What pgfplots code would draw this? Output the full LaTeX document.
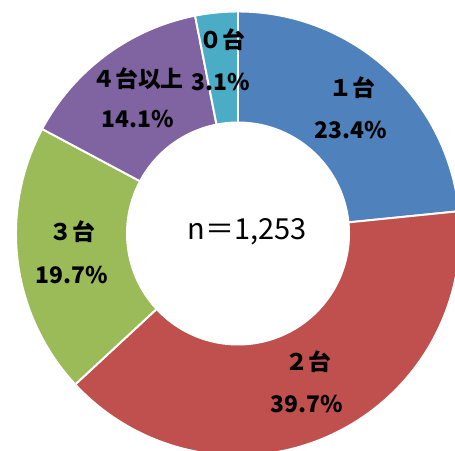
\documentclass[border=0pt]{standalone}
\usepackage{pgfplots}
\usepackage{pgfplotstable}
\pgfplotsset{compat=1.18}
\usepackage{fontspec}
\setmainfont{Noto Sans CJK JP}
\definecolor{cA}{HTML}{4F81BD}
\definecolor{cB}{HTML}{C0504D}
\definecolor{cC}{HTML}{9BBB59}
\definecolor{cD}{HTML}{8064A2}
\definecolor{cE}{HTML}{4BACC6}
\pgfplotstableread{
cat pct
1 23.4
2 39.7
3 19.7
4 14.1
0 3.1
}\data
\begin{document}
\begin{tikzpicture}
\pgfplotstablegetelem{0}{pct}\of\data \pgfmathsetmacro\pA{\pgfplotsretval}
\pgfplotstablegetelem{1}{pct}\of\data \pgfmathsetmacro\pB{\pgfplotsretval}
\pgfplotstablegetelem{2}{pct}\of\data \pgfmathsetmacro\pC{\pgfplotsretval}
\pgfplotstablegetelem{3}{pct}\of\data \pgfmathsetmacro\pD{\pgfplotsretval}
\pgfplotstablegetelem{4}{pct}\of\data \pgfmathsetmacro\pE{\pgfplotsretval}
\pgfmathsetmacro\aA{90}
\pgfmathsetmacro\aB{\aA-3.6*\pA}
\pgfmathsetmacro\aC{\aB-3.6*\pB}
\pgfmathsetmacro\aD{\aC-3.6*\pC}
\pgfmathsetmacro\aE{\aD-3.6*\pD}
\pgfmathsetmacro\aF{\aE-3.6*\pE}
\def\R{222}
\def\r{112}
\begin{axis}[
  hide axis, scale only axis, width=9.1cm, height=9cm,
  xmin=-238, xmax=217, ymin=-216.5, ymax=233.5, clip=true,
  every axis plot/.append style={draw=white, line width=1.1pt, samples=120, line join=round},
]
\addplot[fill=cA, domain=\aB:\aA] ({\R*cos(x)},{\R*sin(x)}) -- (0,0) -- cycle;
\addplot[fill=cB, domain=\aC:\aB] ({\R*cos(x)},{\R*sin(x)}) -- (0,0) -- cycle;
\addplot[fill=cC, domain=\aD:\aC] ({\R*cos(x)},{\R*sin(x)}) -- (0,0) -- cycle;
\addplot[fill=cD, domain=\aE:\aD] ({\R*cos(x)},{\R*sin(x)}) -- (0,0) -- cycle;
\addplot[fill=cE, domain=\aF:\aE] ({\R*cos(x)},{\R*sin(x)}) -- (0,0) -- cycle;
\addplot[fill=white, draw=none, domain=0:360, samples=180] ({\r*cos(x)},{\r*sin(x)}) -- cycle;
\begin{scope}[every node/.style={font=\bfseries\fontsize{13}{15}\selectfont, inner sep=0pt}]
\node at (114,145.5) {１台};
\node at (113,103.5) {23.4\%};
\node at (70,-128.5) {２台};
\node at (69,-170.5) {39.7\%};
\node at (-166,1.5) {３台};
\node at (-166,-41.5) {19.7\%};
\node at (-100,154.5) {４台以上};
\node at (-100,114.5) {14.1\%};
\node at (-16,193.5) {０台};
\node at (-17,151.5) {3.1\%};
\end{scope}
\node[font=\fontsize{16.5}{18}\selectfont, inner sep=0pt] at (9,1.5) {n＝1,253};
\end{axis}
\pgfresetboundingbox
\useasboundingbox (0,0) rectangle (9.1cm,9cm);
\end{tikzpicture}
\end{document}
